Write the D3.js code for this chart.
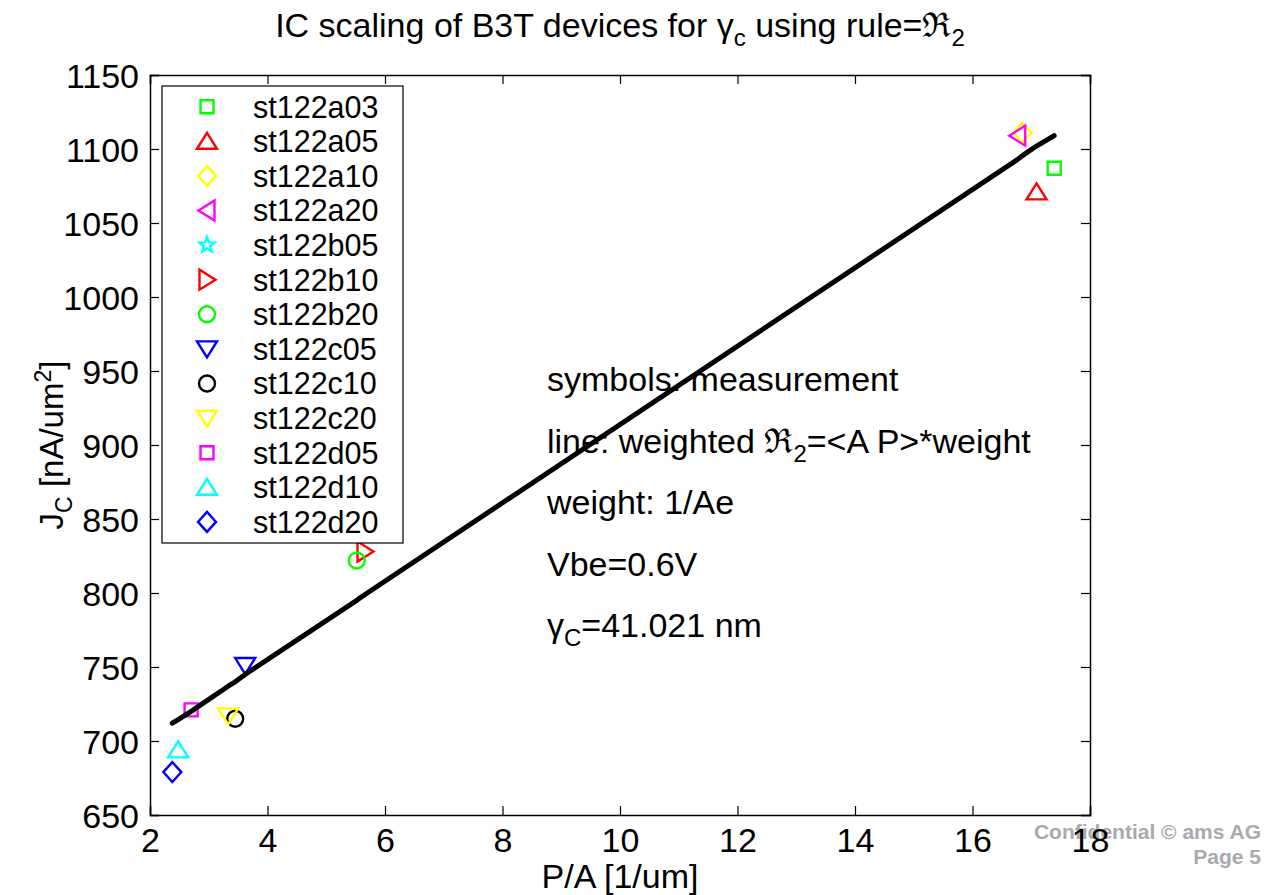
<meta charset="UTF-8">
<script src="https://d3js.org/d3.v7.min.js"></script>
<style>
  body { margin: 0; background: #fff; }
  text { font-family: "Liberation Sans", Arial, Helvetica, sans-serif; }
</style>
<div id="my_dataviz"></div>
<script>

// measured devices (one symbol each)
var devices = ["st122a03", "st122a05", "st122a10", "st122a20", "st122b05", "st122b10", "st122b20",
               "st122c05", "st122c10", "st122c20", "st122d05", "st122d10", "st122d20"];
var paValues = [17.39, 17.09, 16.85, 16.77, 5.55, 5.66, 5.52, 3.62, 3.45, 3.33, 2.70, 2.48, 2.38];
var jcValues = [1087, 1071, 1111, 1109, 845, 828, 822, 751, 715, 717, 721, 694, 679];
var markerShapes = ["square", "up", "diamond", "left", "star", "right", "circle",
                    "down", "circle", "down", "square", "up", "diamond"];
var markerColors = ["#00ff00", "#ff0000", "#ffff00", "#ff00ff", "#00ffff", "#ff0000", "#00ff00",
                    "#0000ff", "#000000", "#ffff00", "#ff00ff", "#00ffff", "#0000ff"];

// weighted fit line
var fitPA = [2.38, 2.48, 2.70, 3.33, 3.45, 3.62, 5.52, 5.55, 5.66, 16.77, 16.85, 17.09, 17.39];
var fitJc = [712, 714.5, 720, 737, 740, 745, 795, 796, 799, 1093, 1095.5, 1102, 1109];

var xTicks = [2, 4, 6, 8, 10, 12, 14, 16, 18];
var yTicks = [650, 700, 750, 800, 850, 900, 950, 1000, 1050, 1100, 1150];

var notes = ["symbols: measurement", "line: weighted ", "weight: 1/Ae", "Vbe=0.6V", ""];

var width = 1277, height = 895;
var margin = {top: 75, right: 187, bottom: 80, left: 150};

var svg = d3.select("#my_dataviz")
  .append("svg")
    .attr("width", width)
    .attr("height", height);

var x = d3.scaleLinear().domain([2, 18]).range([margin.left, width - margin.right]);
var y = d3.scaleLinear().domain([650, 1150]).range([height - margin.bottom, margin.top]);

// footer (sits under the tick label "18")
var footer = svg.append("g")
    .attr("fill", "#a7abb0")
    .attr("font-weight", "bold")
    .attr("font-size", "21px")
    .attr("text-anchor", "end");
footer.append("text").attr("x", 1261).attr("y", 839).text("Confidential \u00a9 ams AG");
footer.append("text").attr("x", 1261).attr("y", 864).text("Page 5");

// marker shapes
var line = d3.line().curve(d3.curveLinearClosed);
function shapePath(s) {
  if (s == "square") return line([[-6.5, -6.5], [6.5, -6.5], [6.5, 6.5], [-6.5, 6.5]]);
  if (s == "diamond") return line([[0, -10], [9, 0], [0, 10], [-9, 0]]);
  if (s == "up") return line([[0, -8.5], [10, 7.5], [-10, 7.5]]);
  if (s == "down") return line([[0, 8.5], [10, -7.5], [-10, -7.5]]);
  if (s == "left") return line([[-8.5, 0], [7.5, -10], [7.5, 10]]);
  if (s == "right") return line([[8.5, 0], [-7.5, -10], [-7.5, 10]]);
  if (s == "circle") return d3.symbol(d3.symbolCircle, Math.PI * 64)();
  if (s == "star") {
    var pts = [];
    for (var k = 0; k < 10; k++) {
      var r = k % 2 == 0 ? 8 : 3.4, a = -Math.PI / 2 + k * Math.PI / 5;
      pts.push([r * Math.cos(a), r * Math.sin(a)]);
    }
    return line(pts);
  }
}

var data = devices.map(function(d, i) {
  return {name: d, pa: paValues[i], jc: jcValues[i], shape: markerShapes[i], color: markerColors[i]};
});

var plot = svg.append("g");

plot.selectAll("path.marker")
  .data(data)
  .enter()
  .append("path")
    .attr("class", "marker")
    .attr("transform", function(d) { return "translate(" + x(d.pa) + "," + y(d.jc) + ")"; })
    .attr("d", function(d) { return shapePath(d.shape); })
    .attr("fill", "none")
    .attr("stroke", function(d) { return d.color; })
    .attr("stroke-width", 2.4);

plot.append("path")
  .datum(fitPA.map(function(p, i) { return [p, fitJc[i]]; }))
  .attr("fill", "none")
  .attr("stroke", "#000")
  .attr("stroke-width", 5)
  .attr("stroke-linecap", "round")
  .attr("stroke-linejoin", "round")
  .attr("d", d3.line().x(function(d) { return x(d[0]); }).y(function(d) { return y(d[1]); }));

// axes box with inward ticks on all four sides
var x0 = x.range()[0], x1 = x.range()[1], y0 = y.range()[0], y1 = y.range()[1];
var tl = 9;

var axisBottom = svg.append("g")
    .attr("transform", "translate(0," + y0 + ")")
    .call(d3.axisBottom(x).tickValues(xTicks).tickSize(-tl).tickPadding(13).tickFormat(d3.format("d")));
var axisTop = svg.append("g")
    .attr("transform", "translate(0," + y1 + ")")
    .call(d3.axisTop(x).tickValues(xTicks).tickSize(-tl).tickFormat(""));
var axisLeft = svg.append("g")
    .attr("transform", "translate(" + x0 + ",0)")
    .call(d3.axisLeft(y).tickValues(yTicks).tickSize(-tl).tickPadding(11).tickFormat(d3.format("d")));
var axisRight = svg.append("g")
    .attr("transform", "translate(" + x1 + ",0)")
    .call(d3.axisRight(y).tickValues(yTicks).tickSize(-tl).tickFormat(""));

[axisBottom, axisTop, axisLeft, axisRight].forEach(function(a) {
  a.select(".domain").attr("stroke", "#000").attr("stroke-width", 1.5);
  a.selectAll(".tick line").attr("stroke", "#000").attr("stroke-width", 1.2);
  a.selectAll("text")
    .attr("fill", "#000")
    .style("font-family", "'Liberation Sans', Arial, sans-serif")
    .style("font-size", "34px");
});
axisBottom.selectAll(".tick text").attr("dy", "0.71em");
axisLeft.selectAll(".tick text").attr("dy", "0.36em");

// legend
var legX = 162, legY = 86, legW = 241, legH = 457, rowH = 34.6;
var legend = svg.append("g");
legend.append("rect")
    .attr("x", legX).attr("y", legY).attr("width", legW).attr("height", legH)
    .attr("fill", "#fff").attr("stroke", "#000").attr("stroke-width", 1.2);
var rows = legend.selectAll("g.row")
  .data(data)
  .enter()
  .append("g")
    .attr("class", "row")
    .attr("transform", function(d, i) { return "translate(0," + (legY + 20.7 + i * rowH) + ")"; });
rows.append("path")
    .attr("transform", "translate(207,0)")
    .attr("d", function(d) { return shapePath(d.shape); })
    .attr("fill", "none")
    .attr("stroke", function(d) { return d.color; })
    .attr("stroke-width", 2.4);
rows.append("text")
    .attr("x", 253)
    .attr("dy", "0.36em")
    .style("font-size", "30.5px")
    .text(function(d) { return d.name; });

// title
var title = svg.append("text")
    .attr("x", (x0 + x1) / 2)
    .attr("y", 37)
    .attr("text-anchor", "middle")
    .style("font-size", "34px");
title.append("tspan").text("IC scaling of B3T devices for \u03b3");
title.append("tspan").attr("dy", 9).style("font-size", "24px").text("c");
title.append("tspan").attr("dy", -9).text(" using rule=");
title.append("tspan").style("font-family", "'DejaVu Serif', serif").text("\u211c");
title.append("tspan").attr("dy", 9).style("font-size", "24px").text("2");

// axis labels
svg.append("text")
    .attr("x", (x0 + x1) / 2)
    .attr("y", 888)
    .attr("text-anchor", "middle")
    .style("font-size", "34px")
    .text("P/A [1/um]");

var yl = svg.append("text")
    .attr("transform", "translate(63," + ((y0 + y1) / 2) + ") rotate(-90)")
    .attr("text-anchor", "middle")
    .style("font-size", "33px");
yl.append("tspan").text("J");
yl.append("tspan").attr("dy", 9).style("font-size", "23px").text("C");
yl.append("tspan").attr("dy", -9).text(" [nA/um");
yl.append("tspan").attr("dy", -12).style("font-size", "23px").text("2");
yl.append("tspan").attr("dy", 12).text("]");

// annotation
var noteX = 547, noteY0 = 391, noteStep = 61.5;
var ann = svg.append("g").style("font-size", "34px");
notes.forEach(function(n, i) {
  var t = ann.append("text").attr("x", noteX).attr("y", noteY0 + i * noteStep);
  if (i == 1) {
    t.append("tspan").text(n);
    t.append("tspan").style("font-family", "'DejaVu Serif', serif").text("\u211c");
    t.append("tspan").attr("dy", 9).style("font-size", "24px").text("2");
    t.append("tspan").attr("dy", -9).text("=<A P>*weight");
  } else if (i == 4) {
    t.append("tspan").text("\u03b3");
    t.append("tspan").attr("dy", 9).style("font-size", "24px").text("C");
    t.append("tspan").attr("dy", -9).text("=41.021 nm");
  } else {
    t.text(n);
  }
});

</script>
